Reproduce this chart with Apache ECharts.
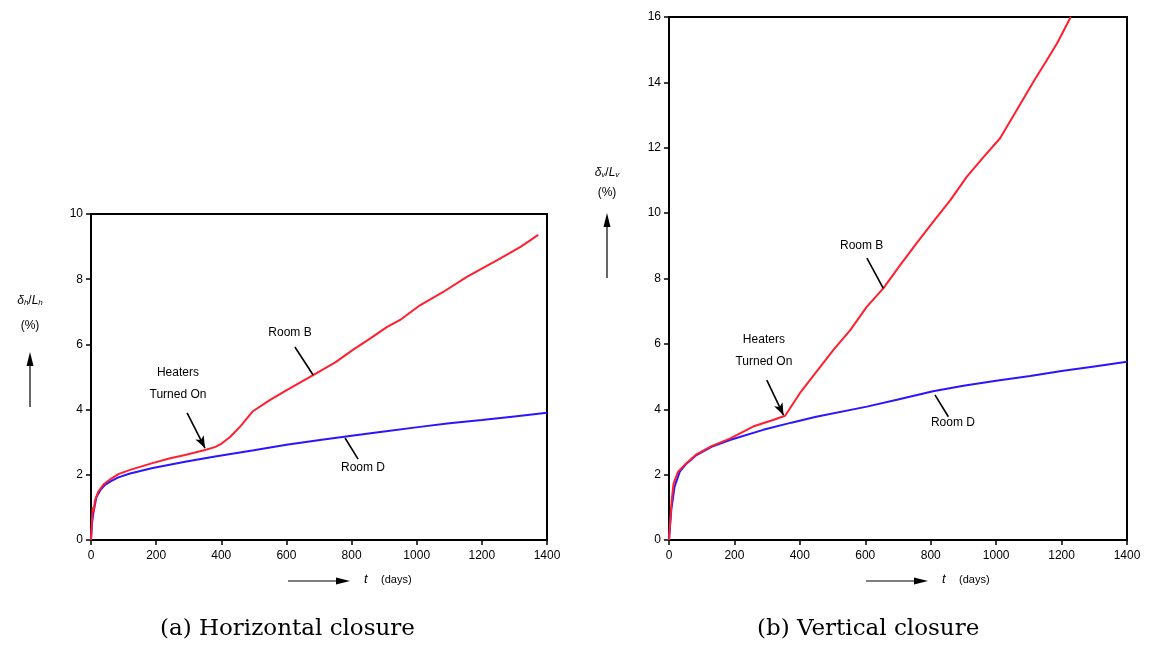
<!DOCTYPE html>
<html><head><meta charset="utf-8">
<script src="https://cdn.jsdelivr.net/npm/echarts@6/dist/echarts.min.js"></script>
<style>html,body{margin:0;padding:0;background:#fff}#c{width:1156px;height:651px}</style>
</head><body><div id="c"></div>
<script>
// ---- data (t in days, closure in %) ----
const xTicks = [0, 200, 400, 600, 800, 1000, 1200, 1400];
const yTicksA = [0, 2, 4, 6, 8, 10];
const yTicksB = [0, 2, 4, 6, 8, 10, 12, 14, 16];

const tRoomB_A = [0,3,5,8,12,22,40,60,84,120,186,240,289,350,380,400,427,460,497,550,601,682,750,804,860,908,949,1010,1080,1154,1250,1320,1373];
const vRoomB_A = [0,0.6,1.0,0.85,1.2,1.48,1.72,1.87,2.02,2.15,2.35,2.5,2.61,2.76,2.85,2.95,3.16,3.5,3.95,4.3,4.6,5.06,5.45,5.83,6.2,6.53,6.75,7.2,7.6,8.07,8.6,9.0,9.36];
const tRoomD_A = [0,3,7,17,30,43,60,84,120,186,289,381,500,600,703,800,900,1010,1100,1200,1300,1400];
const vRoomD_A = [0,0.5,0.82,1.33,1.55,1.69,1.8,1.92,2.04,2.2,2.4,2.56,2.75,2.92,3.07,3.2,3.33,3.47,3.58,3.68,3.79,3.9];

const tRoomB_B = [0,4,8,14,28,50,84,130,186,257,318,355,400,451,502,554,605,655,706,757,808,860,910,960,1012,1060,1114,1150,1186,1228];
const vRoomB_B = [0,0.6,1.2,1.73,2.09,2.32,2.62,2.87,3.1,3.47,3.67,3.8,4.49,5.15,5.81,6.42,7.14,7.7,8.4,9.08,9.74,10.4,11.11,11.7,12.29,13.1,14.02,14.6,15.19,16.0];
const tRoomD_B = [0,3,7,17,33,50,84,130,186,288,374,450,605,700,807,900,1000,1104,1200,1300,1400];
const vRoomD_B = [0,0.4,0.92,1.63,2.09,2.3,2.6,2.85,3.06,3.37,3.59,3.77,4.08,4.3,4.55,4.72,4.87,5.02,5.17,5.31,5.45];

// annotation anchors in data coordinates
const annA = {
  heaters: {text:[267,4.79], arrow:[[295,3.9],[350,2.82]]},
  roomB:   {text:[611,6.35], line:[[626,5.92],[682,5.06]]},
  roomD:   {text:[835,2.21], line:[[780,3.13],[820,2.48]]}
};
const annB = {
  heaters: {text:[290,5.78], arrow:[[299,4.89],[350,3.82]]},
  roomB:   {text:[589,8.99], line:[[605,8.62],[655,7.7]]},
  roomD:   {text:[868,3.58], line:[[813,4.44],[854,3.77]]}
};

const zip = (a,b) => a.map((v,i)=>[v,b[i]]);
const RED = '#ff1f2e', BLUE = '#2b14ff';
const lab = {fontFamily:'Liberation Sans, Arial, sans-serif', fontSize:12, color:'#000', formatter:(v)=>String(v)};

function xAxis(gi){return {type:'value', gridIndex:gi, min:0, max:1400, interval:200,
  axisLine:{show:true, lineStyle:{color:'#000', width:2}}, axisTick:{show:true, length:5, lineStyle:{color:'#000', width:1.5}},
  axisLabel:Object.assign({margin:10}, lab), splitLine:{show:false}};}
function yAxis(gi,max){return {type:'value', gridIndex:gi, min:0, max:max, interval:2,
  axisLine:{show:true, lineStyle:{color:'#000', width:2}}, axisTick:{show:true, length:5, lineStyle:{color:'#000', width:1.5}},
  axisLabel:Object.assign({margin:8}, lab), splitLine:{show:false}};}

function annSeries(gi, ann){
  const txt = {fontFamily:'Liberation Sans, Arial, sans-serif', fontSize:12, color:'#000', lineHeight:22};
  return {type:'line', xAxisIndex:gi, yAxisIndex:gi, data:[], silent:true,
    markLine:{silent:true, animation:false, label:{show:false},
      lineStyle:{color:'#000', width:1.6, type:'solid'},
      data:[
        [{coord:ann.heaters.arrow[0], symbol:'none'},{coord:ann.heaters.arrow[1], symbol:'arrow', symbolSize:[7,12]}],
        [{coord:ann.roomB.line[0], symbol:'none'},{coord:ann.roomB.line[1], symbol:'none'}],
        [{coord:ann.roomD.line[0], symbol:'none'},{coord:ann.roomD.line[1], symbol:'none'}]
      ]},
    markPoint:{silent:true, animation:false, symbol:'circle', symbolSize:0,
      label:Object.assign({show:true, position:'inside'}, txt),
      data:[
        {coord:ann.heaters.text, label:{formatter:'Heaters\nTurned On'}},
        {coord:ann.roomB.text, label:{formatter:'Room B'}},
        {coord:ann.roomD.text, label:{formatter:'Room D'}}
      ]}
  };
}
function curve(gi, t, v, color){
  return {type:'line', xAxisIndex:gi, yAxisIndex:gi, data:zip(t,v), showSymbol:false, symbol:'none',
    lineStyle:{color:color, width:2}, clip:true, z:3};
}

function yTitle(x, yD, yP, yTip, yBot, sub){
  return [
    {type:'text', x:x, y:yD, style:{text:'{i|δ}{s|'+sub+'}{n|/}{i|L}{s|'+sub+'}', align:'center', verticalAlign:'middle',
      rich:{i:{fontFamily:'Liberation Sans, Arial', fontStyle:'italic', fontSize:12, fill:'#000', verticalAlign:'bottom', lineHeight:14},
            n:{fontFamily:'Liberation Sans, Arial', fontSize:12, fill:'#000', verticalAlign:'bottom', lineHeight:14},
            s:{fontFamily:'Liberation Sans, Arial', fontStyle:'italic', fontSize:8, fill:'#000', verticalAlign:'bottom', lineHeight:10}}}},
    {type:'text', x:x, y:yP, style:{text:'(%)', font:'12px Liberation Sans, Arial', fill:'#000', align:'center', verticalAlign:'middle'}},
    {type:'line', shape:{x1:x, y1:yBot, x2:x, y2:yTip+12}, style:{stroke:'#000', lineWidth:1.2}},
    {type:'polygon', shape:{points:[[x-3.5,yTip+14],[x+3.5,yTip+14],[x,yTip]]}, style:{fill:'#000'}}
  ];
}
function xTitle(x, y){
  return [
    {type:'line', shape:{x1:x, y1:y, x2:x+50, y2:y}, style:{stroke:'#000', lineWidth:1.2}},
    {type:'polygon', shape:{points:[[x+48,y-3.5],[x+48,y+3.5],[x+62,y]]}, style:{fill:'#000'}},
    {type:'text', left:x+76, top:y-8, style:{text:'t', font:'italic 13px Liberation Sans, Arial', fill:'#000'}},
    {type:'text', left:x+93, top:y-7, style:{text:'(days)', font:'11px Liberation Sans, Arial', fill:'#000'}}
  ];
}

const chart = echarts.init(document.getElementById('c'), null, {renderer:'canvas'});
chart.setOption({
  animation:false,
  backgroundColor:'#fff',
  grid:[
    {left:91, top:214, right:609, bottom:111, show:true, borderColor:'#000', borderWidth:2, backgroundColor:'transparent'},
    {left:669, top:17, right:29, bottom:111, show:true, borderColor:'#000', borderWidth:2, backgroundColor:'transparent'}
  ],
  xAxis:[xAxis(0), xAxis(1)],
  yAxis:[yAxis(0,10), yAxis(1,16)],
  series:[
    curve(0, tRoomD_A, vRoomD_A, BLUE),
    curve(0, tRoomB_A, vRoomB_A, RED),
    annSeries(0, annA),
    curve(1, tRoomD_B, vRoomD_B, BLUE),
    curve(1, tRoomB_B, vRoomB_B, RED),
    annSeries(1, annB)
  ],
  graphic:[].concat(
    yTitle(30, 300, 326, 352, 407, 'h'),
    yTitle(607, 172, 193, 213, 278, 'v'),
    xTitle(288, 581),
    xTitle(866, 581),
    [
      {type:'text', left:160, top:618, style:{text:'(a) Horizontal closure', font:'23px DejaVu Serif, serif', fill:'#000'}},
      {type:'text', left:757, top:618, style:{text:'(b) Vertical closure', font:'23px DejaVu Serif, serif', fill:'#000'}}
    ]
  )
});
</script></body></html>
